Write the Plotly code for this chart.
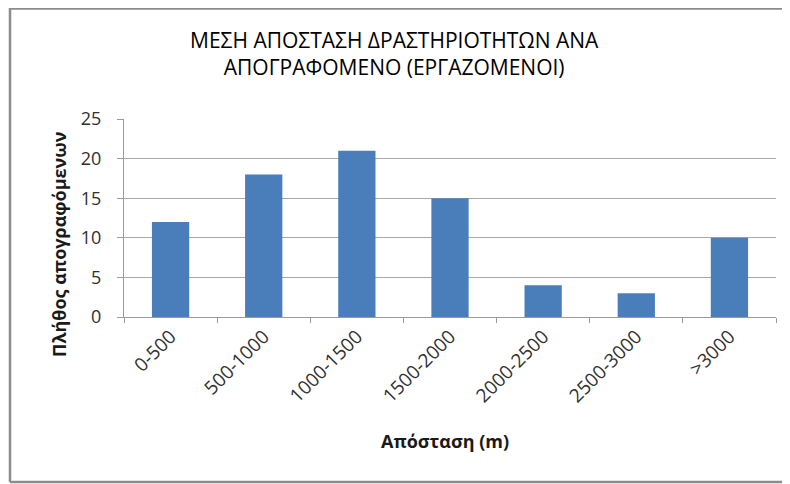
import plotly.graph_objects as go

categories = ["0-500", "500-1000", "1000-1500", "1500-2000", "2000-2500", "2500-3000", ">3000"]
counts = [12, 18, 21, 15, 4, 3, 10]
y_ticks = [0, 5, 10, 15, 20, 25]

title_text = "ΜΕΣΗ ΑΠΟΣΤΑΣΗ ΔΡΑΣΤΗΡΙΟΤΗΤΩΝ ΑΝΑ<br>ΑΠΟΓΡΑΦΟΜΕΝΟ (ΕΡΓΑΖΟΜΕΝΟΙ)"
x_title = "Απόσταση (m)"
y_title = "Πλήθος απογραφόμενων"

# figure is placed at (8, 8) in the page by the body margin
W, H = 782, 476
L, R, T, B = 116, 14, 111, 167
pw, ph = W - L - R, H - T - B
plot_bottom = H - B

def fx(px):
    return (px - L) / pw

def fy(py):
    return (plot_bottom - py) / ph

FONT = "Open Sans, sans-serif"

fig = go.Figure(go.Bar(x=categories, y=counts,
                       marker=dict(color="#4a7ebb", line=dict(width=0)), width=0.40))

frame = dict(color="#8c8c8c", width=2.5)
fig.add_shape(type="line", xref="paper", yref="paper", x0=fx(2), x1=fx(2), y0=fy(474), y1=fy(0), line=frame, layer="below")
fig.add_shape(type="line", xref="paper", yref="paper", x0=fx(2), x1=fx(790), y0=fy(0.5), y1=fy(0.5), line=frame, layer="below")
fig.add_shape(type="line", xref="paper", yref="paper", x0=fx(2), x1=fx(790), y0=fy(474), y1=fy(474), line=frame, layer="below")

fig.add_annotation(text=title_text, xref="paper", yref="paper", x=fx(386), y=fy(45),
                   xanchor="center", yanchor="middle", showarrow=False,
                   font=dict(size=21, color="#000000", family=FONT))
fig.add_annotation(text="<b>" + y_title + "</b>", xref="paper", yref="paper", x=fx(51), y=fy(236),
                   xanchor="center", yanchor="middle", showarrow=False, textangle=-90,
                   font=dict(size=18, color="#1a1a1a", family=FONT))
fig.add_annotation(text="<b>" + x_title + "</b>", xref="paper", yref="paper", x=fx(437), y=fy(433),
                   xanchor="center", yanchor="middle", showarrow=False,
                   font=dict(size=18, color="#1a1a1a", family=FONT))

fig.update_layout(
    width=W, height=H,
    margin=dict(l=L, r=R, t=T, b=B, autoexpand=False),
    paper_bgcolor="white", plot_bgcolor="white",
    font=dict(family=FONT, color="#404040"),
    showlegend=False,
)
fig.update_xaxes(
    type="category", tickangle=-45, tickfont=dict(size=19, color="#303030"),
    showline=True, linecolor="#9a9a9a", linewidth=1,
    ticks="outside", ticklen=5, tickcolor="#9a9a9a", tickson="boundaries",
    automargin=False,
)
fig.update_yaxes(
    range=[0, 25], tickvals=y_ticks, tickfont=dict(size=18, color="#303030"),
    showgrid=True, gridcolor="#a8a8a8", gridwidth=1,
    showline=True, linecolor="#9a9a9a", linewidth=1,
    ticks="outside", ticklen=6, tickcolor="#9a9a9a", ticklabelstandoff=12,
    zeroline=False, automargin=False,
)

fig.write_html("out.html")
